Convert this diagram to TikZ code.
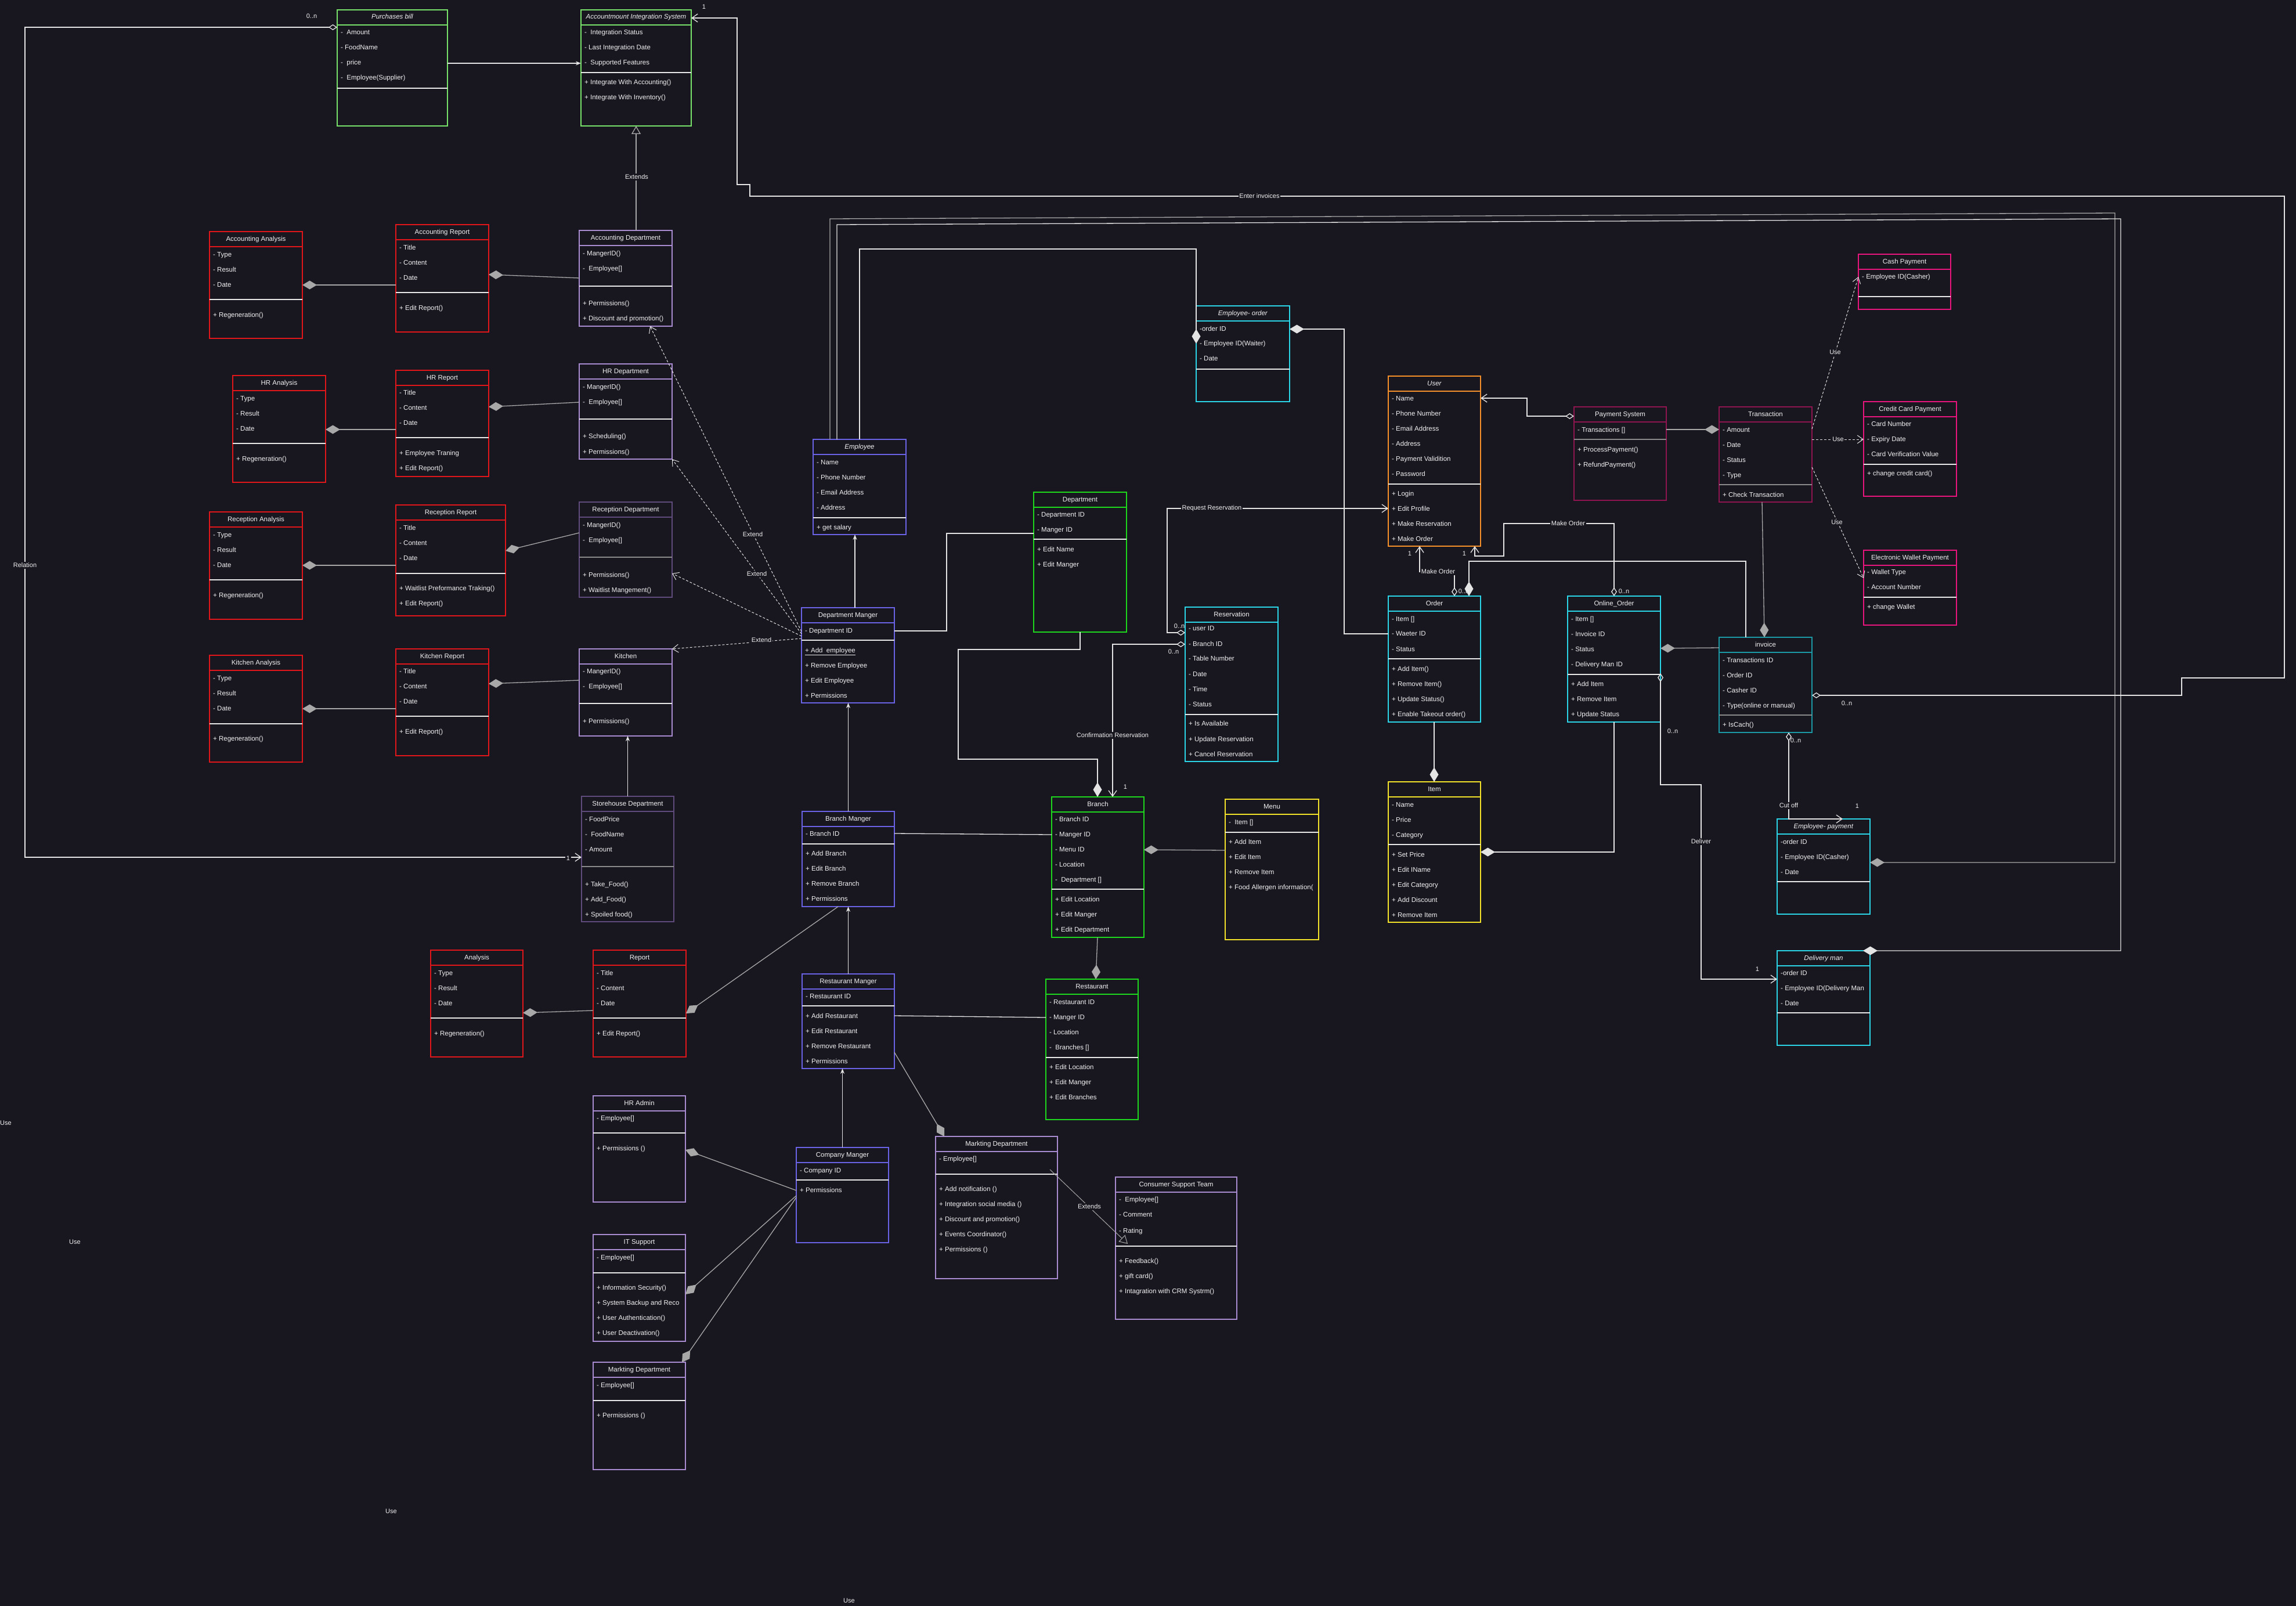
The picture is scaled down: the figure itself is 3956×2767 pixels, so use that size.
\documentclass[tikz,border=0pt]{standalone}
\usepackage{fontspec}
\setmainfont{Liberation Sans}
\usetikzlibrary{arrows.meta,calc}
\definecolor{bg}{HTML}{18161F}
\definecolor{fg}{HTML}{F2F2F2}
\definecolor{lc}{HTML}{E4E4E4}
\definecolor{lg}{HTML}{A8A8A8}
\definecolor{cLgreen}{HTML}{78E26A}
\definecolor{cRed}{HTML}{E0161B}
\definecolor{cLav}{HTML}{A98BD1}
\definecolor{cDpur}{HTML}{5F4C7C}
\definecolor{cBlue}{HTML}{6B63E6}
\definecolor{cGreen}{HTML}{1ED81E}
\definecolor{cCyan}{HTML}{2AD6E8}
\definecolor{cTeal}{HTML}{1B9AA5}
\definecolor{cOrange}{HTML}{F5902A}
\definecolor{cDmag}{HTML}{8E1550}
\definecolor{cPink}{HTML}{E8157D}
\definecolor{cYellow}{HTML}{F2E22A}
\definecolor{cDiv}{HTML}{E8E8E8}
\definecolor{cDivG}{HTML}{8A8A8A}
\newcommand\myfs{\fontsize{11.5}{13.8}\selectfont}
\newcommand\mylfs{\fontsize{11}{13}\selectfont}
\tikzset{
  x=1pt,y=-1pt,
  fdia/.tip={Diamond[length=25pt,width=15pt]},
  hdia/.tip={Diamond[open,length=15pt,width=10pt]},
  oarr/.tip={Straight Barb[length=10pt,width=14pt]},
  garr/.tip={Triangle[open,fill=bg,length=14pt,width=16pt]},
  sarr/.tip={Stealth[length=9pt,width=7pt]},
  txt/.style={font=\myfs,text=fg,inner sep=0pt,text height=8.5pt,text depth=2.5pt},
  rowtxt/.style={txt,anchor=west},
  titletxt/.style={txt,anchor=center},
  lbl/.style={font=\mylfs,text=fg,fill=bg,inner sep=1.5pt},
  mlbl/.style={font=\mylfs,text=fg,inner sep=1pt},
  conn/.style={draw=lc,line width=1.3pt},
  lgconn/.style={draw=lg,line width=1.3pt},
  dconn/.style={draw=lc,line width=1pt,dash pattern=on 4pt off 3pt},
  clsbox/.style={line width=1.5pt,inner sep=0pt,outer sep=0pt},
  bLg/.style={draw=cLgreen},
  bRed/.style={draw=cRed},
  bLav/.style={draw=cLav},
  bDp/.style={draw=cDpur,line width=2.2pt},
  bBlue/.style={draw=cBlue},
  bGreen/.style={draw=cGreen},
  bCyan/.style={draw=cCyan},
  bTeal/.style={draw=cTeal,line width=2pt},
  bOrange/.style={draw=cOrange},
  bDmag/.style={draw=cDmag,line width=2pt},
  bPink/.style={draw=cPink},
  bYellow/.style={draw=cYellow},
  dW/.style={draw=cDiv},
  dG/.style={draw=cDivG,line width=2pt},
}
% #1 name #2 border style #3 x1 #4 y1 #5 x2 #6 y2 #7 divider y #8 divider style #9 title
\newcommand\cls[9]{%
  \node[clsbox,#2,minimum width={#5-#3},minimum height={#6-#4},anchor=north west] (#1) at (#3,#4) {};
  \draw[line width=1.5pt,#2] (#3,#4+26) -- (#5,#4+26);
  \draw[line width=1.5pt,#8] (#3,#7) -- (#5,#7);
  \node[titletxt] (#1-title) at ({(#3+#5)/2},#4+13) {#9};
}
\newcommand\rows[3]{%
  \foreach \ry/\rt [count=\ii] in {#3} {\node[rowtxt] (#1-r\ii) at (#2,\ry) {\rt};}
}
\begin{document}
\begin{tikzpicture}
\useasboundingbox (0,0) rectangle (3956,2767);
\fill[bg] (0,0) rectangle (3956,2767);

% ---------------- classes ----------------
\cls{pbill}{bLg}{581}{17}{771}{217}{152}{dW}{\textit{Purchases bill}}
\rows{pbill}{587}{57/- \ Amount, 83/- FoodName, 109/- \ price, 135/- \ Employee(Supplier)}
\cls{ais}{bLg}{1001}{17}{1191}{217}{125}{dW}{\textit{Accountmount Integration System}}
\rows{ais}{1007}{57/- \ Integration Status, 83/- Last Integration Date, 109/- \ Supported Features, 143/+ Integrate With Accounting(), 169/+ Integrate With Inventory()}

\cls{accana}{bRed}{361}{399}{521}{583}{516}{dW}{Accounting Analysis}
\rows{accana}{367}{439/- Type, 465/- Result, 491/- Date, 543/+ Regeneration()}
\cls{accrep}{bRed}{682}{387}{842}{572}{504}{dW}{Accounting Report}
\rows{accrep}{688}{427/- Title, 453/- Content, 479/- Date, 531/+ Edit Report()}
\cls{accdep}{bLav}{998}{397}{1158}{562}{493}{dW}{Accounting Department}
\rows{accdep}{1004}{437/- MangerID(), 463/- \ Employee[], 523/+ Permissions(), 549/+ Discount and promotion()}

\cls{hrana}{bRed}{401}{647}{561}{831}{764}{dW}{HR Analysis}
\rows{hrana}{407}{687/- Type, 713/- Result, 739/- Date, 791/+ Regeneration()}
\cls{hrrep}{bRed}{682}{638}{842}{821}{754}{dW}{HR Report}
\rows{hrrep}{688}{677/- Title, 703/- Content, 729/- Date, 781/+ Employee Traning, 807/+ Edit Report()}
\cls{hrdep}{bLav}{998}{627}{1158}{791}{722}{dW}{HR Department}
\rows{hrdep}{1004}{667/- MangerID(), 693/- \ Employee[], 752/+ Scheduling(), 779/+ Permissions()}

\cls{recana}{bRed}{361}{882}{521}{1067}{999}{dW}{Reception Analysis}
\rows{recana}{367}{922/- Type, 948/- Result, 974/- Date, 1026/+ Regeneration()}
\cls{recrep}{bRed}{682}{870}{871}{1061}{988}{dW}{Reception Report}
\rows{recrep}{688}{910/- Title, 936/- Content, 962/- Date, 1014/+ Waitlist Preformance Traking(), 1040/+ Edit Report()}
\cls{recdep}{bDp}{998}{865}{1158}{1029}{960}{dG}{Reception Department}
\rows{recdep}{1004}{905/- MangerID(), 931/- \ Employee[], 991/+ Permissions(), 1017/+ Waitlist Mangement()}

\cls{kitana}{bRed}{361}{1129}{521}{1313}{1247}{dW}{Kitchen Analysis}
\rows{kitana}{367}{1169/- Type, 1195/- Result, 1221/- Date, 1273/+ Regeneration()}
\cls{kitrep}{bRed}{682}{1118}{842}{1302}{1234}{dW}{Kitchen Report}
\rows{kitrep}{688}{1157/- Title, 1183/- Content, 1209/- Date, 1261/+ Edit Report()}
\cls{kitchen}{bLav}{998}{1118}{1158}{1268}{1212}{dW}{Kitchen}
\rows{kitchen}{1004}{1157/- MangerID(), 1183/- \ Employee[], 1243/+ Permissions()}

\cls{store}{bDp}{1002}{1372}{1161}{1588}{1493}{dG}{Storehouse Department}
\rows{store}{1008}{1412/- FoodPrice, 1438/- \ FoodName, 1464/- Amount, 1524/+ Take\_Food(), 1550/+ Add\_Food(), 1576/+ Spoiled food()}

\cls{ana}{bRed}{742}{1637}{901}{1821}{1754}{dW}{Analysis}
\rows{ana}{748}{1677/- Type, 1703/- Result, 1729/- Date, 1781/+ Regeneration()}
\cls{rep}{bRed}{1022}{1637}{1182}{1821}{1754}{dW}{Report}
\rows{rep}{1028}{1677/- Title, 1703/- Content, 1729/- Date, 1781/+ Edit Report()}

\cls{emp}{bBlue}{1401}{757}{1561}{921}{892}{dW}{\textit{Employee}}
\rows{emp}{1407}{797/- Name, 823/- Phone Number, 849/- Email Address, 875/- Address, 909/+ get salary}
\cls{dman}{bBlue}{1381}{1047}{1541}{1211}{1103}{dW}{Department Manger}
\rows{dman}{1387}{1087/- Department ID, 1121/\underline{+ Add\ \ employee}, 1147/+ Remove Employee, 1173/+ Edit Employee, 1199/+ Permissions}
\cls{dept}{bGreen}{1781}{848}{1941}{1089}{929}{dW}{Department}
\rows{dept}{1787}{887/- Department ID, 913/- Manger ID, 947/+ Edit Name, 973/+ Edit Manger}
\cls{bman}{bBlue}{1382}{1398}{1541}{1562}{1454}{dW}{Branch Manger}
\rows{bman}{1388}{1437/- Branch ID, 1471/+ Add Branch, 1497/+ Edit Branch, 1523/+ Remove Branch, 1549/+ Permissions}
\cls{rman}{bBlue}{1382}{1678}{1541}{1841}{1733}{dW}{Restaurant Manger}
\rows{rman}{1388}{1717/- Restaurant ID, 1751/+ Add Restaurant, 1777/+ Edit Restaurant, 1803/+ Remove Restaurant, 1829/+ Permissions}
\cls{branch}{bGreen}{1812}{1373}{1971}{1615}{1532}{dW}{Branch}
\rows{branch}{1818}{1412/- Branch ID, 1438/- Manger ID, 1464/- Menu ID, 1490/- Location, 1516/- \ Department [], 1550/+ Edit Location, 1576/+ Edit Manger, 1602/+ Edit Department}
\cls{restaurant}{bGreen}{1802}{1687}{1961}{1929}{1822}{dW}{Restaurant}
\rows{restaurant}{1808}{1727/- Restaurant ID, 1753/- Manger ID, 1779/- Location, 1805/- \ Branches [], 1839/+ Edit Location, 1865/+ Edit Manger, 1891/+ Edit Branches}
\cls{menu}{bYellow}{2111}{1377}{2272}{1619}{1434}{dW}{Menu}
\rows{menu}{2117}{1417/- \ Item [], 1451/+ Add Item, 1477/+ Edit Item, 1503/+ Remove Item, 1529/+ Food Allergen information(}
\cls{item}{bYellow}{2392}{1347}{2551}{1589}{1455}{dW}{Item}
\rows{item}{2398}{1387/- Name, 1413/- Price, 1439/- Category, 1473/+ Set Price, 1499/+ Edit IName, 1525/+ Edit Category, 1551/+ Add Discount, 1577/+ Remove Item}

\cls{emporder}{bCyan}{2061}{527}{2222}{692}{636}{dW}{\textit{Employee- order}}
\rows{emporder}{2067}{567/-order ID, 592/- Employee ID(Waiter), 618/- Date}
\cls{resv}{bCyan}{2042}{1046}{2202}{1312}{1231}{dW}{Reservation}
\rows{resv}{2048}{1083/- user ID, 1110/- Branch ID, 1135/- Table Number, 1162/- Date, 1188/- Time, 1214/- Status, 1247/+ Is Available, 1274/+ Update Reservation, 1300/+ Cancel Reservation}
\cls{user}{bOrange}{2392}{648}{2551}{941}{834}{dW}{\textit{User}}
\rows{user}{2398}{687/- Name, 713/- Phone Number, 739/- Email Address, 765/- Address, 791/- Payment Validition, 817/- Password, 851/+ Login, 877/+ Edit Profile, 903/+ Make Reservation, 929/+ Make Order}
\cls{paysys}{bDmag}{2712}{701}{2871}{862}{757}{dG}{Payment System}
\rows{paysys}{2718}{741/- Transactions [], 775/+ ProcessPayment(), 801/+ RefundPayment()}
\cls{trans}{bDmag}{2962}{701}{3122}{865}{835}{dG}{Transaction}
\rows{trans}{2968}{741/- Amount, 767/- Date, 793/- Status, 819/- Type, 853/+ Check Transaction}
\cls{cash}{bPink}{3202}{438}{3361}{533}{511}{dW}{Cash Payment}
\rows{cash}{3208}{477/- Employee ID(Casher)}
\cls{credit}{bPink}{3211}{692}{3371}{855}{800}{dW}{Credit Card Payment}
\rows{credit}{3217}{731/- Card Number, 757/- Expiry Date, 783/- Card Verification Value, 816/+ change credit card()}
\cls{wallet}{bPink}{3211}{948}{3371}{1077}{1029}{dW}{Electronic Wallet Payment}
\rows{wallet}{3217}{986/- Wallet Type, 1012/- Account Number, 1046/+ change Wallet}
\cls{order}{bCyan}{2392}{1027}{2551}{1244}{1135}{dW}{Order}
\rows{order}{2398}{1067/- Item [], 1092/- Waeter ID, 1119/- Status, 1153/+ Add Item(), 1179/+ Remove Item(), 1205/+ Update Status(), 1231/+ Enable Takeout order()}
\cls{oorder}{bCyan}{2701}{1027}{2861}{1244}{1162}{dW}{Online\_Order}
\rows{oorder}{2707}{1067/- Item [], 1093/- Invoice ID, 1119/- Status, 1145/- Delivery Man ID, 1179/+ Add Item, 1205/+ Remove Item, 1231/+ Update Status}
\cls{invoice}{bTeal}{2962}{1098}{3122}{1262}{1232}{dG}{invoice}
\rows{invoice}{2968}{1138/- Transactions ID, 1164/- Order ID, 1190/- Casher ID, 1216/- Type(online or manual), 1249/+ IsCach()}
\cls{emppay}{bCyan}{3062}{1411}{3222}{1575}{1519}{dW}{\textit{Employee- payment}}
\rows{emppay}{3068}{1451/-order ID, 1477/- Employee ID(Casher), 1503/- Date}
\cls{delman}{bCyan}{3062}{1638}{3222}{1801}{1745}{dW}{\textit{Delivery man}}
\rows{delman}{3068}{1677/-order ID, 1703/- Employee ID(Delivery Man, 1729/- Date}

\cls{hradmin}{bLav}{1022}{1888}{1181}{2071}{1952}{dW}{HR Admin}
\rows{hradmin}{1028}{1927/- Employee[], 1979/+ Permissions ()}
\cls{itsup}{bLav}{1022}{2127}{1181}{2311}{2193}{dW}{IT Support}
\rows{itsup}{1028}{2167/- Employee[], 2219/+ Information Security(), 2245/+ System Backup and Reco, 2271/+ User Authentication(), 2297/+ User Deactivation()}
\cls{mktl}{bLav}{1022}{2347}{1181}{2532}{2413}{dW}{Markting Department}
\rows{mktl}{1028}{2387/- Employee[], 2439/+ Permissions ()}
\cls{cman}{bBlue}{1372}{1977}{1531}{2141}{2033}{dW}{Company Manger}
\rows{cman}{1378}{2017/- Company ID, 2051/+ Permissions}
\cls{mktr}{bLav}{1612}{1958}{1822}{2203}{2023}{dW}{Markting Department}
\rows{mktr}{1618}{1997/- Employee[], 2049/+ Add notification (), 2075/+ Integration social media (), 2101/+ Discount and promotion(), 2127/+ Events Coordinator(), 2153/+ Permissions ()}
\cls{cst}{bLav}{1922}{2028}{2131}{2273}{2147}{dW}{Consumer Support Team}
\rows{cst}{1928}{2067/- \ Employee[], 2093/- Comment, 2121/- Rating, 2173/+ Feedback(), 2199/+ gift card(), 2225/+ Intagration with CRM Systrm()}

% ---------------- connectors ----------------
\draw[conn,-{sarr}] (pbill.east|-0,109) -- (ais.west|-0,109);
\draw[lgconn,-{garr}] (ais.south|-accdep.north) -- (ais.south);
\draw[lgconn,{fdia}-] (accrep.east|-0,473) -- (accdep.west|-0,479);
\draw[lgconn,{fdia}-] (accana.east|-0,491) -- (accrep.west|-0,491);
\draw[lgconn,{fdia}-] (hrrep.east|-0,701) -- (hrdep.west|-0,693);
\draw[lgconn,{fdia}-] (hrana.east|-0,740) -- (hrrep.west|-0,740);
\draw[lgconn,{fdia}-] (recrep.east|-0,949) -- (recdep.west|-0,918);
\draw[lgconn,{fdia}-] (recana.east|-0,974) -- (recrep.west|-0,974);
\draw[lgconn,{fdia}-] (kitrep.east|-0,1178) -- (kitchen.west|-0,1172);
\draw[lgconn,{fdia}-] (kitana.east|-0,1221) -- (kitrep.west|-0,1221);
\draw[conn,-{sarr}] (store.north) -- (store.north|-kitchen.south);
\draw[conn,{hdia}-{oarr}] (pbill.west|-0,47) -- (43,47) -- (43,1477) -- (store.west|-0,1477);
\draw[lgconn,{fdia}-] (ana.east|-0,1745) -- (rep.west|-0,1741);
\draw[lgconn,{fdia}-] (rep.east|-0,1746) -- (1444,0|-bman.south);
\draw[conn,-{sarr}] (1473,0|-dman.north) -- (1473,0|-emp.south);
\draw[conn,-{sarr}] (bman.north) -- (bman.north|-dman.south);
\draw[conn,-{sarr}] (rman.north) -- (rman.north|-bman.south);
\draw[conn,-{sarr}] (cman.north) -- (cman.north|-rman.south);
\draw[conn] (dman.east|-0,1087) -- (1631,1087) -- (1631,919) -- (dept.west|-0,919);
\draw[conn,-{fdia}] (dept.south) -- (1861,1119) -- (1651,1119) -- (1651,1308) -- (1891,1308) -- (1891,0|-branch.north);
\draw[conn] (bman.east|-0,1436) -- (branch.west|-0,1438);
\draw[lgconn,{fdia}-] (branch.east|-0,1464) -- (menu.west|-0,1465);
\draw[lgconn,-{fdia}] (1891,0|-branch.south) -- (1888,0|-restaurant.north);
\draw[conn] (rman.east|-0,1750) -- (restaurant.west|-0,1753);
\draw[lgconn,-{fdia}] (rman.east|-0,1813) -- (1627,0|-mktr.north);
\draw[lgconn,-{fdia}] (cman.west|-0,2051) -- (hradmin.east|-0,1981);
\draw[lgconn,-{fdia}] (cman.west|-0,2060) -- (itsup.east|-0,2230);
\draw[lgconn,-{fdia}] (cman.west|-0,2063) -- (1175,0|-mktl.north);
\coordinate (mktrx) at (1809,2015);
\coordinate (cstx) at (1943,2143);
\draw[lgconn,line width=1pt,-{garr}] (mktrx) -- (cstx);
\draw[dconn,-{oarr}] (dman.west|-0,1088) -- (1120,0|-accdep.south);
\draw[dconn,-{oarr}] (dman.west|-0,1092) -- (hrdep.south east);
\draw[dconn,-{oarr}] (dman.west|-0,1096) -- (recdep.east|-0,988);
\draw[dconn,-{oarr}] (dman.west|-0,1100) -- (kitchen.north east);
\draw[lgconn,-{fdia}] (1430,0|-emp.north) -- (1430,377) -- (3644,367) -- (3644,1486) -- (emppay.east|-0,1486);
\draw[conn,-{fdia}] (1442,0|-emp.north) -- (1442,387) -- (3654,377) -- (3654,1638) -- ($(delman.north east)+(-12,0)$);
\draw[conn,-{fdia}] (1481,0|-emp.north) -- (1481,429) -- (2061,429) -- (emporder.west|-0,592);
\draw[conn,{fdia}-] (emporder.east|-0,567) -- (2316,567) -- (2316,1092) -- (order.west|-0,1092);
\draw[conn,{hdia}-{oarr}] (resv.west|-0,1090) -- (2011,1090) -- (2011,876) -- (user.west|-0,876);
\draw[conn,{hdia}-{oarr}] (resv.west|-0,1110) -- (1917,1110) -- (1917,0|-branch.north);
\draw[conn,{hdia}-{oarr}] (paysys.west|-0,717) -- (2631,717) -- (2631,686) -- (user.east|-0,686);
\draw[lgconn,-{fdia}] (paysys.east|-0,740) -- (trans.west|-0,740);
\draw[lgconn,-{fdia}] (3036,0|-trans.south) -- (3040,0|-invoice.north);
\draw[dconn,-{oarr}] (trans.east|-0,739) -- (cash.west|-0,477);
\draw[dconn,-{oarr}] (trans.east|-0,757) -- (credit.west|-0,757);
\draw[dconn,-{oarr}] (trans.east|-0,805) -- (wallet.west|-0,996);
\draw[conn,{hdia}-{oarr}] (2506,0|-order.north) -- (2506,985) -- (2446,985) -- (2446,0|-user.south);
\draw[conn,{fdia}-] (2531,0|-order.north) -- (2531,967) -- (3008,967) -- (3008,0|-invoice.north);
\draw[conn,{hdia}-{oarr}] (2781,0|-oorder.north) -- (2781,902) -- (2591,902) -- (2591,958) -- (2541,958) -- (2541,0|-user.south);
\draw[lgconn,-{fdia}] (invoice.west|-0,1116) -- (oorder.east|-0,1117);
\draw[conn,-{fdia}] (2471,0|-order.south) -- (2471,0|-item.north);
\draw[conn,-{fdia}] (2781,0|-oorder.south) -- (2781,1468) -- (item.east|-0,1468);
\draw[conn,{hdia}-{oarr}] (oorder.east|-0,1160) -- (2861,1352) -- (2931,1352) -- (2931,1687) -- (delman.west|-0,1687);
\draw[conn,{hdia}-{oarr}] (3082,0|-invoice.south) -- (3082,1411) -- (3175,0|-emppay.north);
\draw[conn,{hdia}-{oarr}] (invoice.east|-0,1198) -- (3759,1198) -- (3759,1168) -- (3936,1168) -- (3936,338) -- (1292,338) -- (1292,318) -- (1270,318) -- (1270,31) -- (ais.east|-0,31);

% ---------------- labels ----------------
\node[mlbl] (m1) at (537,28) {0..n};
\node[mlbl] (m2) at (1213,12) {1};
\node[lbl] (l1) at (1097,305) {Extends};
\node[lbl] (l2) at (43,974) {Relation};
\node[lbl] (m3) at (979,1479) {1};
\node[lbl] (l3) at (2170,338) {Enter invoices};
\node[mlbl] (m4) at (3182,1212) {0..n};
\node[lbl] (l4) at (1297,921) {Extend};
\node[lbl] (l5) at (1304,989) {Extend};
\node[lbl] (l6) at (1312,1103) {Extend};
\node[lbl] (l7) at (2088,876) {Request Reservation};
\node[mlbl] (m5) at (2032,1079) {0..n};
\node[lbl] (l8) at (1917,1267) {Confirmation Reservation};
\node[mlbl] (m6) at (2022,1123) {0..n};
\node[mlbl] (m7) at (1939,1356) {1};
\node[lbl] (l9) at (2478,985) {Make Order};
\node[mlbl] (m8) at (2429,954) {1};
\node[mlbl] (m9) at (2522,1019) {0..n};
\node[lbl] (l10) at (2702,902) {Make Order};
\node[mlbl] (m10) at (2523,954) {1};
\node[mlbl] (m11) at (2798,1019) {0..n};
\node[mlbl] (m12) at (2882,1260) {0..n};
\node[lbl] (l11) at (2931,1450) {Deliver};
\node[mlbl] (m13) at (3028,1670) {1};
\node[lbl] (l12) at (3082,1388) {Cut off};
\node[mlbl] (m14) at (3094,1276) {0..n};
\node[mlbl] (m15) at (3200,1389) {1};
\node[lbl] (l13) at (3162,607) {Use};
\node[lbl] (l14) at (3167,757) {Use};
\node[lbl] (l15) at (3165,900) {Use};
\node[lbl] (l16) at (1877,2079) {Extends};
\node[lbl] (u1) at (10,1935) {Use};
\node[lbl] (u2) at (129,2140) {Use};
\node[lbl] (u3) at (674,2604) {Use};
\node[lbl] (u4) at (1463,2758) {Use};
\end{tikzpicture}
\end{document}
